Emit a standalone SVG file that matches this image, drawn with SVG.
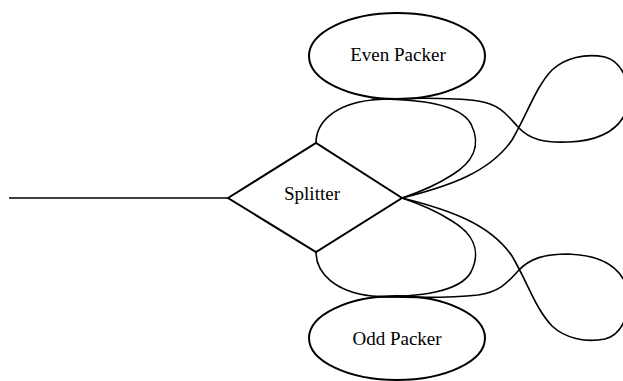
<svg xmlns="http://www.w3.org/2000/svg" width="623" height="381" viewBox="0 0 623 381">
<style>
.shape{fill:none;stroke:#000;stroke-width:2}
.conn{fill:none;stroke:#000;stroke-width:1.6}
.lbl{font-family:"Liberation Serif","Times New Roman",serif;font-size:19px;fill:#000;text-anchor:middle}
</style>
<rect width="623" height="381" fill="#fff"/>
<g id="connectors">
<line class="conn" x1="9" y1="198" x2="228" y2="198"/>
<path class="conn" d="M316,143 C316,122 335,104 372,100 C395,98 450,97 478,101 C500,104 508,116 518,127 C530,140 545,143 568,142 C600,141 618,130 626,112 C634,90 624,62 605,57 C585,53 565,58 552,70 C535,88 528,113 512,140 C490,172 450,186 402,198"/>
<path class="conn" d="M372,99 C420,99 460,104 471,124 C482,146 472,163 452,175 C435,186 420,192 402,198"/>
<path class="conn" d="M316,252 C316,273 335,292 372,296 C395,298 450,298 478,295 C500,292 508,282 518,271 C530,258 545,254 568,254 C600,255 618,266 626,284 C634,306 624,334 605,339 C585,343 565,338 552,326 C535,308 528,283 512,256 C490,224 450,210 402,198"/>
<path class="conn" d="M372,297 C420,297 460,292 471,272 C482,250 472,233 452,221 C435,210 420,204 402,198"/>
</g>
<g id="splitter">
<polygon class="shape" points="228,198 316,143 402,198 316,252"/>
<text class="lbl" x="312" y="200">Splitter</text>
</g>
<g id="even-packer">
<ellipse class="shape" cx="397" cy="56" rx="88" ry="43"/>
<text class="lbl" x="398" y="61">Even Packer</text>
</g>
<g id="odd-packer">
<ellipse class="shape" cx="397" cy="338" rx="88" ry="42"/>
<text class="lbl" x="397" y="345">Odd Packer</text>
</g>
</svg>
